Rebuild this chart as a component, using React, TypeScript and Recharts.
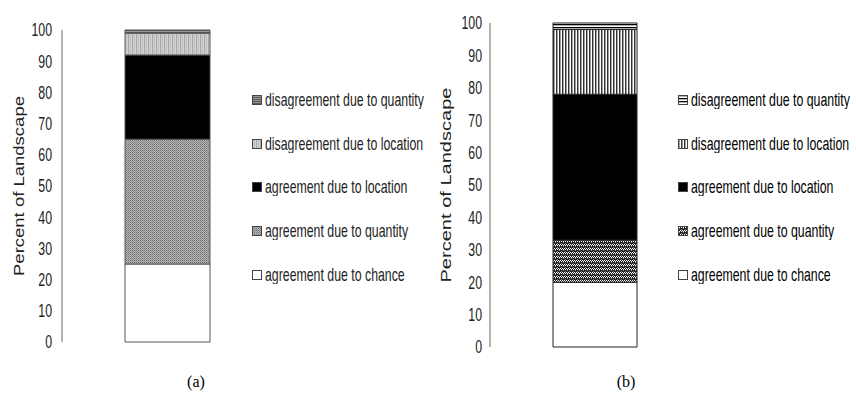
import React from 'react';
import { BarChart, Bar, XAxis, YAxis, Legend, Label } from 'recharts';

// one stacked column per panel
const panels = ['(a)', '(b)'];
const seriesKeys = ['chance', 'quantity', 'location', 'disLocation', 'disQuantity'];
const seriesNames = [
  'agreement due to chance',
  'agreement due to quantity',
  'agreement due to location',
  'disagreement due to location',
  'disagreement due to quantity',
];
const chanceValues = [25, 20];
const quantityValues = [40, 13];
const locationValues = [27, 45];
const disLocationValues = [7, 20];
const disQuantityValues = [1, 2];
const yTicks = [0, 10, 20, 30, 40, 50, 60, 70, 80, 90, 100];

const SANS = "'Liberation Sans', Arial, sans-serif";
// the original uses a narrow, slightly tall face
const SQUEEZE_X = 0.77;
const STRETCH_Y = 1.12;

const panelData = (i: number) => [
  {
    name: panels[i],
    chance: chanceValues[i],
    quantity: quantityValues[i],
    location: locationValues[i],
    disLocation: disLocationValues[i],
    disQuantity: disQuantityValues[i],
  },
];

const fillsA = ['#ffffff', 'url(#a-qty)', '#000000', 'url(#a-disloc)', 'url(#a-disqty)'];
const fillsB = ['#ffffff', 'url(#b-qty)', '#000000', 'url(#b-disloc)', 'url(#b-disqty)'];

const PatternsA = () => (
  <defs>
    <pattern id="a-qty" width={2} height={2} patternUnits="userSpaceOnUse">
      <rect width={2} height={2} fill="#b8b8b8" />
      <rect x={0} y={0} width={1} height={1} fill="#6e6e6e" />
      <rect x={1} y={1} width={1} height={1} fill="#8c8c8c" />
    </pattern>
    <pattern id="a-disloc" width={4} height={4} patternUnits="userSpaceOnUse">
      <rect width={4} height={4} fill="#d2d2d2" />
      <rect x={0} width={1} height={4} fill="#a8a8a8" />
      <rect x={2} width={1} height={4} fill="#bebebe" />
    </pattern>
    <pattern id="a-disqty" width={2} height={2} patternUnits="userSpaceOnUse">
      <rect width={2} height={2} fill="#9a9a9a" />
      <rect y={0} width={2} height={1} fill="#555555" />
    </pattern>
  </defs>
);

const PatternsB = () => (
  <defs>
    <pattern id="b-qty" width={4} height={4} patternUnits="userSpaceOnUse">
      <rect width={4} height={4} fill="#222222" />
      <rect x={0} y={0} width={1} height={1} fill="#ffffff" />
      <rect x={2} y={0} width={1} height={1} fill="#ffffff" />
      <rect x={1} y={1} width={1} height={1} fill="#ffffff" />
      <rect x={3} y={1} width={1} height={1} fill="#ffffff" />
      <rect x={1} y={2} width={1} height={1} fill="#888888" />
      <rect x={3} y={3} width={1} height={1} fill="#888888" />
    </pattern>
    <pattern id="b-disloc" width={3} height={3} patternUnits="userSpaceOnUse">
      <rect width={3} height={3} fill="#ffffff" />
      <rect x={0} width={1} height={3} fill="#333333" />
      <rect x={1} width={1} height={3} fill="#a0a0a0" />
    </pattern>
    <pattern id="b-disqty" width={3} height={3} patternUnits="userSpaceOnUse">
      <rect width={3} height={3} fill="#ffffff" />
      <rect y={0} width={3} height={1.3} fill="#000000" />
    </pattern>
  </defs>
);

const LegendBox = ({ fills, color }: { fills: string[]; color: string }) => (
  <div style={{ fontFamily: SANS, fontSize: 16, color }}>
    {[4, 3, 2, 1, 0].map((k) => (
      <div key={k} style={{ display: 'flex', alignItems: 'center', height: 43.75 }}>
        <svg width={10} height={10} style={{ marginRight: 3, flex: 'none' }}>
          <rect x={0.5} y={0.5} width={9} height={9} fill={fills[k]} stroke="#444" />
        </svg>
        <span
          style={{
            display: 'inline-block',
            whiteSpace: 'nowrap',
            transform: `scale(${SQUEEZE_X}, ${STRETCH_Y})`,
            transformOrigin: '0 50%',
          }}
        >
          {seriesNames[k]}
        </span>
      </div>
    ))}
  </div>
);

const NarrowTick = (props: any) => {
  const { x, y, payload } = props;
  return (
    <text
      x={0}
      y={0}
      transform={`translate(${x},${y}) scale(${SQUEEZE_X},${STRETCH_Y})`}
      textAnchor="end"
      dominantBaseline="central"
      fontFamily={SANS}
      fontSize={16}
      fill="#222"
    >
      {payload.value}
    </text>
  );
};

const AxisTitle = (props: any) => {
  const vb = props.viewBox || { x: 0, y: 0, height: 0 };
  const cx = vb.x + props.dx;
  const cy = vb.y + vb.height / 2;
  return (
    <text
      x={cx}
      y={cy}
      transform={`rotate(-90 ${cx} ${cy})`}
      textAnchor="middle"
      dominantBaseline="central"
      fontFamily={SANS}
      fontSize={14}
      fill="#222"
      textLength={props.len}
      lengthAdjust="spacingAndGlyphs"
    >
      Percent of Landscape
    </text>
  );
};

interface PanelProps {
  idx: number;
  left: number;
  width: number;
  margin: { top: number; right: number; bottom: number; left: number };
  barSize: number;
  tickMargin: number;
  fills: string[];
  stroke: string;
  legendLeft: number;
  titleDx: number;
  titleLen: number;
  textColor: string;
  patterns: React.ReactNode;
}

const Panel = (p: PanelProps) => (
  <div style={{ position: 'absolute', left: p.left, top: 0 }}>
    <BarChart width={p.width} height={360} data={panelData(p.idx)} margin={p.margin}>
      {p.patterns}
      <XAxis dataKey="name" hide />
      <YAxis
        domain={[0, 100]}
        ticks={yTicks}
        width={54}
        tickLine={false}
        tickMargin={p.tickMargin}
        axisLine={{ stroke: '#9a9a9a', strokeWidth: 1.5 }}
        tick={<NarrowTick />}
      >
        <Label content={<AxisTitle dx={p.titleDx} len={p.titleLen} />} />
      </YAxis>
      <Legend
        layout="vertical"
        align="center"
        verticalAlign="middle"
        wrapperStyle={{ left: p.legendLeft, top: 78, width: 175 }}
        content={() => <LegendBox fills={p.fills} color={p.textColor} />}
      />
      {seriesKeys.map((k, i) => (
        <Bar
          key={k}
          dataKey={k}
          name={seriesNames[i]}
          stackId="s"
          fill={p.fills[i]}
          stroke={p.stroke}
          strokeWidth={1}
          barSize={p.barSize}
          isAnimationActive={false}
        />
      ))}
    </BarChart>
  </div>
);

const captionStyle: React.CSSProperties = {
  position: 'absolute',
  top: 373,
  width: 40,
  textAlign: 'center',
  fontFamily: "'Liberation Serif', 'Times New Roman', serif",
  fontSize: 16,
  color: '#000',
};

export default function App() {
  return (
    <div style={{ position: 'absolute', left: 0, top: 0, width: 856, height: 407, background: '#fff' }}>
      <Panel
        idx={0}
        left={0}
        width={430}
        margin={{ top: 30, right: 157, bottom: 18, left: 8 }}
        barSize={85}
        tickMargin={4}
        fills={fillsA}
        stroke="#555"
        legendLeft={252}
        titleDx={11}
        titleLen={180}
        textColor="#222"
        patterns={<PatternsA />}
      />
      <Panel
        idx={1}
        left={430}
        width={426}
        margin={{ top: 23, right: 156, bottom: 13, left: 6 }}
        barSize={84}
        tickMargin={2}
        fills={fillsB}
        stroke="#222"
        legendLeft={248}
        titleDx={10}
        titleLen={195}
        textColor="#000"
        patterns={<PatternsB />}
      />
      <div style={{ ...captionStyle, left: 176 }}>{panels[0]}</div>
      <div style={{ ...captionStyle, left: 606 }}>{panels[1]}</div>
    </div>
  );
}
